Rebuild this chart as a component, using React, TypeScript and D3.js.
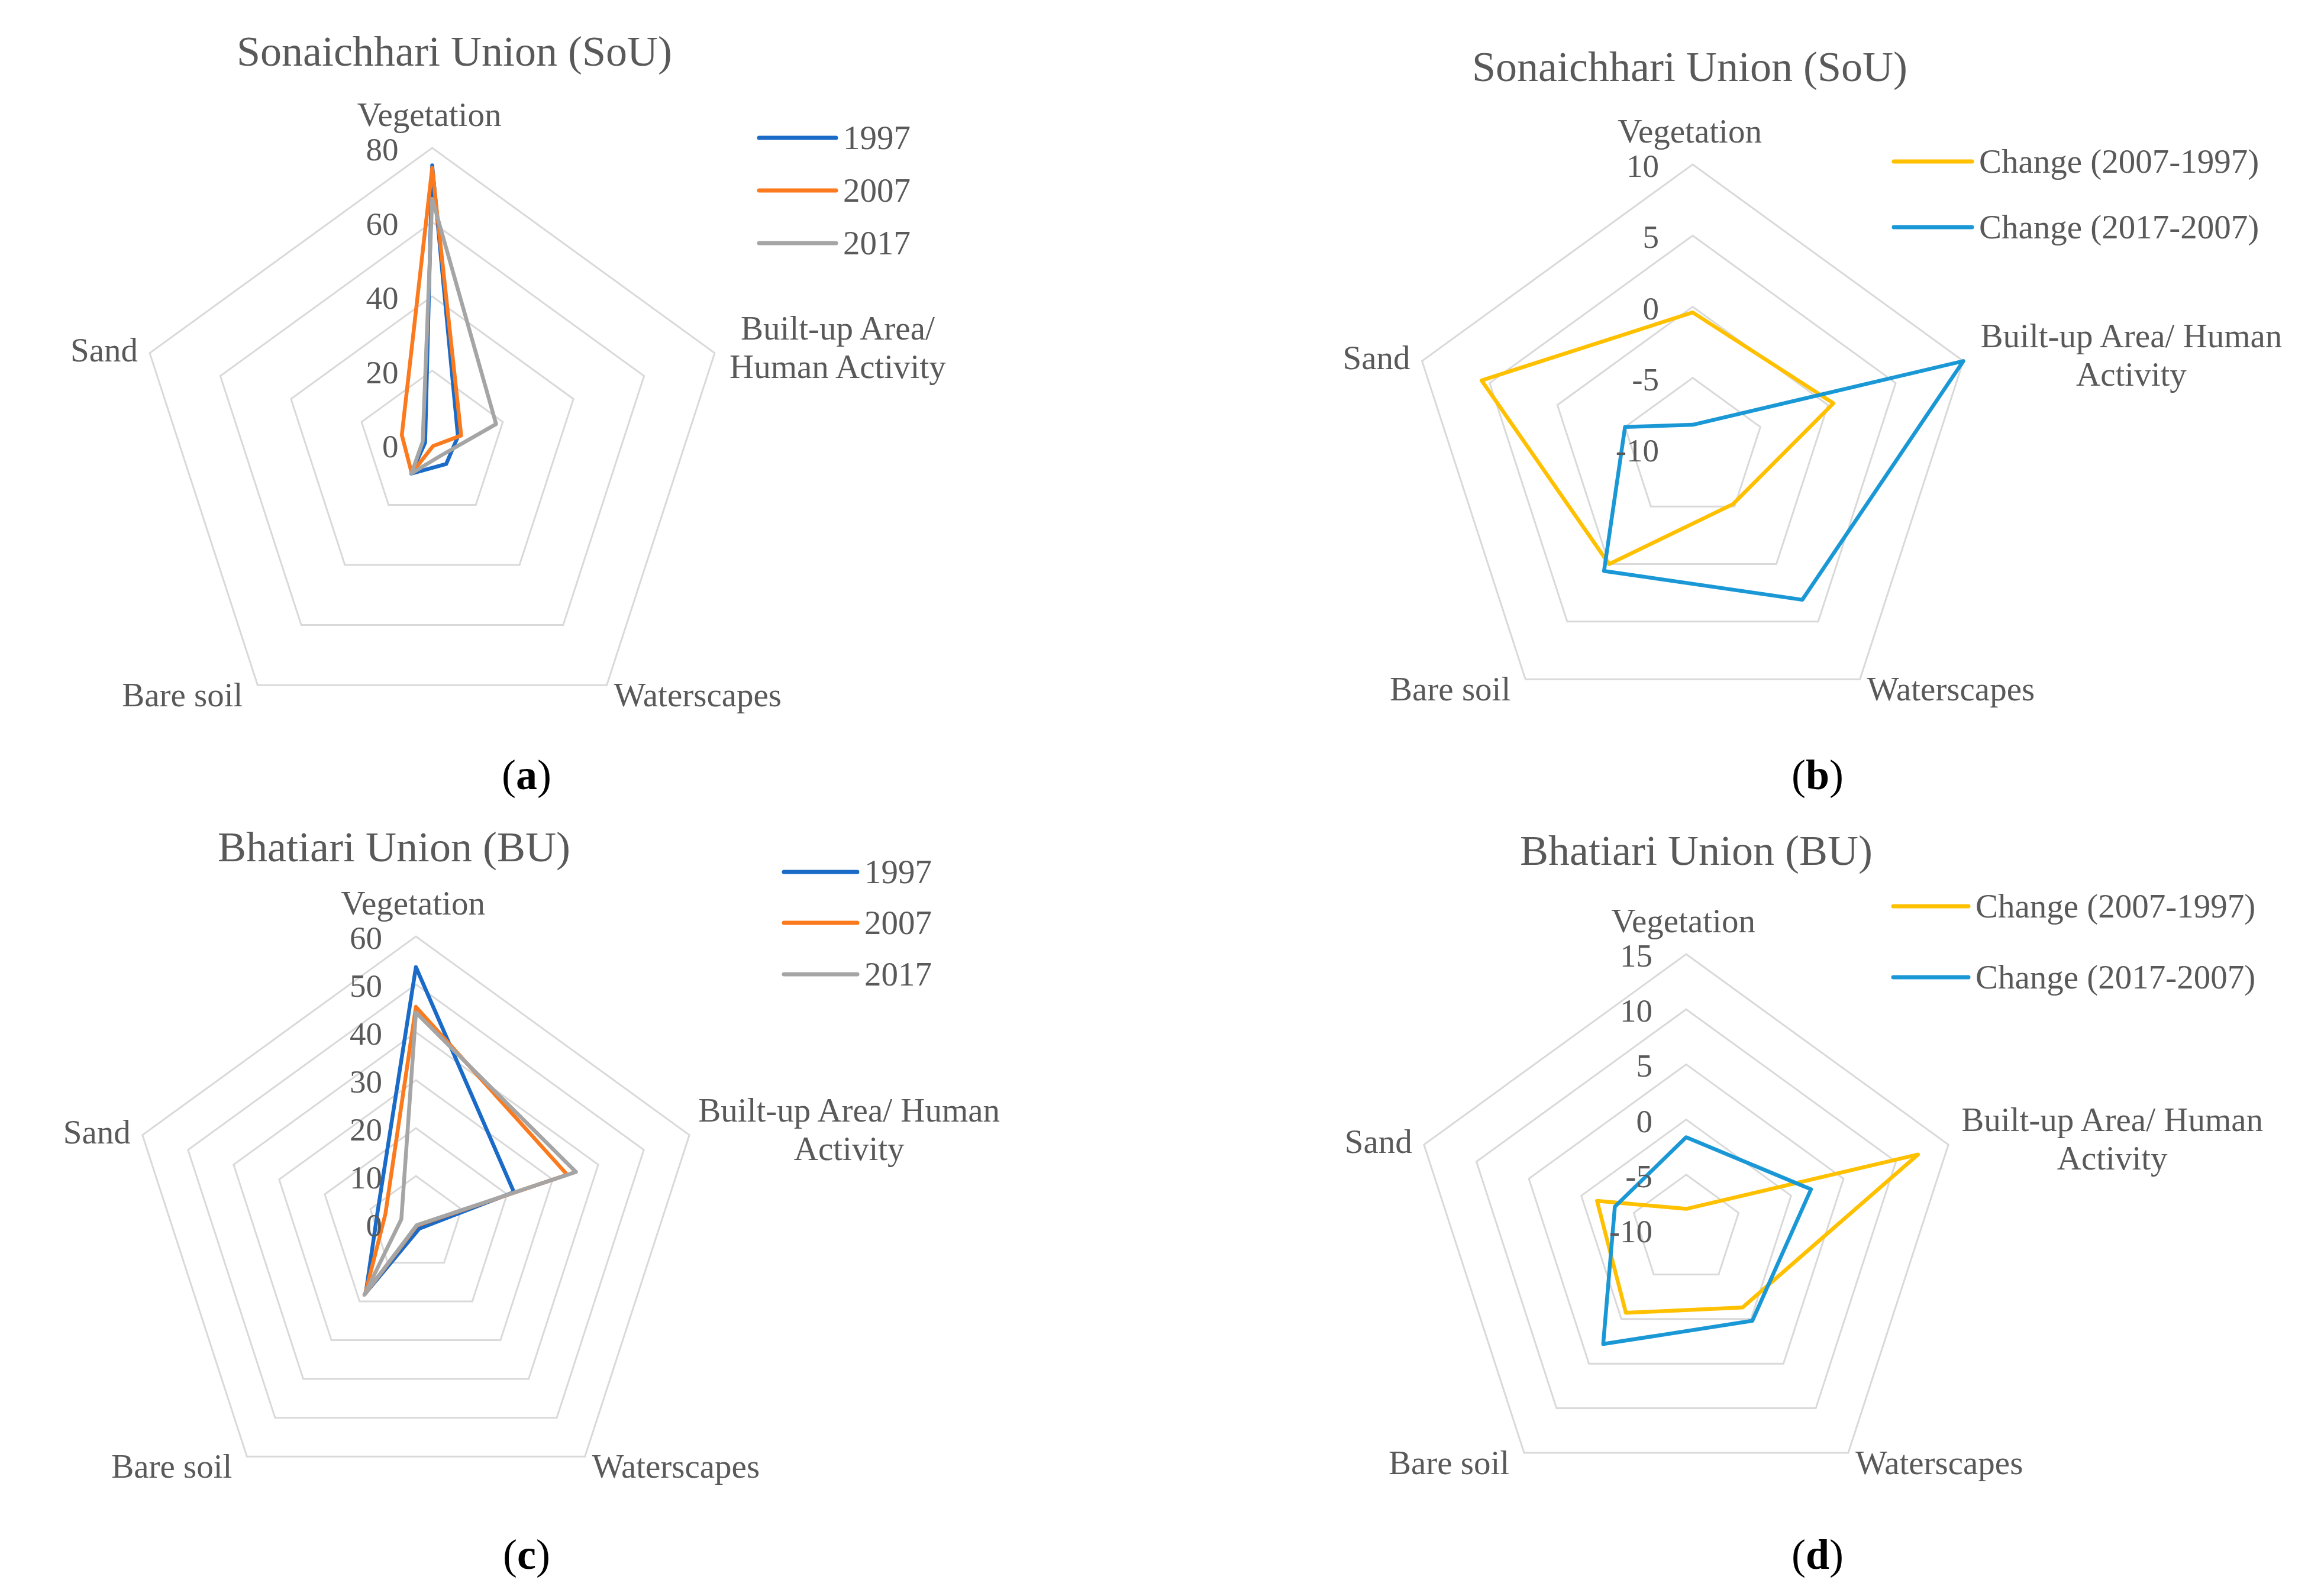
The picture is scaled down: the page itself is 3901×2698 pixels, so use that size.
import React, { useEffect } from 'react';
import * as d3 from 'd3';

// categories, clockwise from the top
const categories = ['Vegetation', 'Built-up Area/ Human Activity', 'Waterscapes', 'Bare soil', 'Sand'];

// Sonaichhari Union, share of area (%)
const sou1997 = [75.3, 7.3, 6.4, 9.6, 2.0];
const sou2007 = [74.6, 8.2, 0.4, 9.4, 8.6];
const sou2017 = [66.3, 18.1, 3.7, 9.5, 2.7];
// Sonaichhari Union, change (%)
const souChange0797 = [-0.4, 0.4, -5.2, 0.0, 5.6];
const souChange1707 = [-8.3, 10.0, 3.1, 0.6, -5.0];

// Bhatiari Union, share of area (%)
const bu1997 = [53.6, 21.5, 1.2, 17.8, 8.4];
const bu2007 = [45.3, 33.2, 0.4, 18.0, 6.7];
const bu2017 = [44.1, 35.1, 0.3, 18.3, 3.2];
// Bhatiari Union, change (%)
const buChange0797 = [-8.1, 12.1, -1.3, -0.7, -1.5];
const buChange1707 = [-1.6, 1.9, 0.2, 2.8, -3.2];

const souTicks = [0, 20, 40, 60, 80];
const souChangeTicks = [-10, -5, 0, 5, 10];
const buTicks = [0, 10, 20, 30, 40, 50, 60];
const buChangeTicks = [-10, -5, 0, 5, 10, 15];

const yearNames = ['1997', '2007', '2017'];
const changeNames = ['Change (2007-1997)', 'Change (2017-2007)'];
const yearColors = ['#1a6ac8', '#fc7a1e', '#a5a5a5'];
const changeColors = ['#ffc000', '#1a98d6'];

const FONT = "'Liberation Serif', 'Times New Roman', serif";
const TEXT = '#595959';
const GRID = '#d9d9d9';

interface Series { name: string; values: number[]; color: string; }
interface Panel {
  title: string;
  tag: string;
  cx: number; cy: number; r: number;
  ticks: number[];
  series: Series[];
  titleX: number; titleY: number;
  legX0: number; legX1: number; legYs: number[];
  builtLines: string[]; builtDx: number;
  tagX: number; tagY: number;
}

const mk = (names: string[], vals: number[][], colors: string[]) =>
  names.map((name, i) => ({ name, values: vals[i], color: colors[i] }));

const panels: Panel[] = [
  {
    title: 'Sonaichhari Union (SoU)', tag: 'a',
    cx: 730.5, cy: 752, r: 502, ticks: souTicks,
    series: mk(yearNames, [sou1997, sou2007, sou2017], yearColors),
    titleX: 768, titleY: 111,
    legX0: 1283, legX1: 1413, legYs: [233, 322, 411],
    builtLines: ['Built-up Area/', 'Human Activity'], builtDx: 208,
    tagX: 890, tagY: 1334,
  },
  {
    title: 'Sonaichhari Union (SoU)', tag: 'b',
    cx: 2861, cy: 759, r: 481, ticks: souChangeTicks,
    series: mk(changeNames, [souChange0797, souChange1707], changeColors),
    titleX: 2856, titleY: 137,
    legX0: 3201, legX1: 3333, legYs: [273, 384],
    builtLines: ['Built-up Area/ Human', 'Activity'], builtDx: 284,
    tagX: 3072, tagY: 1334,
  },
  {
    title: 'Bhatiari Union (BU)', tag: 'c',
    cx: 703, cy: 2069, r: 486, ticks: buTicks,
    series: mk(yearNames, [bu1997, bu2007, bu2017], yearColors),
    titleX: 666, titleY: 1456,
    legX0: 1325, legX1: 1449, legYs: [1474, 1560, 1647],
    builtLines: ['Built-up Area/ Human', 'Activity'], builtDx: 270,
    tagX: 890, tagY: 2652,
  },
  {
    title: 'Bhatiari Union (BU)', tag: 'd',
    cx: 2850, cy: 2079, r: 466, ticks: buChangeTicks,
    series: mk(changeNames, [buChange0797, buChange1707], changeColors),
    titleX: 2867, titleY: 1462,
    legX0: 3200, legX1: 3327, legYs: [1532, 1652],
    builtLines: ['Built-up Area/ Human', 'Activity'], builtDx: 277,
    tagX: 3072, tagY: 2652,
  },
];

const angle = (i: number) => (i * 2 * Math.PI) / categories.length;

const Radar: React.FC<{ p: Panel }> = ({ p }) => {
  const min = p.ticks[0];
  const max = p.ticks[p.ticks.length - 1];
  const scale = d3.scaleLinear().domain([min, max]).range([0, p.r]);
  const line = d3.lineRadial<number>()
    .angle((_, i) => angle(i))
    .radius(v => scale(v))
    .curve(d3.curveLinearClosed);
  const vertex = (i: number) => [Math.sin(angle(i)) * p.r, -Math.cos(angle(i)) * p.r];
  const [vx0, vy0] = vertex(0);
  const [vx1, vy1] = vertex(1);
  const [vx2, vy2] = vertex(2);
  const [vx3, vy3] = vertex(3);
  const [vx4, vy4] = vertex(4);
  const fs = 57;

  return (
    <g>
      <text x={p.titleX} y={p.titleY} textAnchor="middle" fontSize={72} fill={TEXT}>{p.title}</text>
      <g transform={`translate(${p.cx},${p.cy})`}>
        {p.ticks.slice(1).map(t => (
          <path key={t} d={line(categories.map(() => t)) || ''} fill="none" stroke={GRID} strokeWidth={3} />
        ))}
        {p.series.map(s => (
          <path key={s.name} d={line(s.values) || ''} fill="none" stroke={s.color}
            strokeWidth={6.5} strokeLinejoin="round" />
        ))}
        {p.ticks.map(t => (
          <text key={t} x={-57} y={-scale(t) + 21} textAnchor="end" fontSize={55} fill={TEXT}>{t}</text>
        ))}
        <text x={vx0 - 5} y={vy0 - 37} textAnchor="middle" fontSize={fs} fill={TEXT}>{categories[0]}</text>
        <text x={vx1 + p.builtDx} y={vy1 - 23} textAnchor="middle" fontSize={fs} fill={TEXT}>
          {p.builtLines.map((l, i) => (
            <tspan key={i} x={vx1 + p.builtDx} dy={i === 0 ? 0 : 65}>{l}</tspan>
          ))}
        </text>
        <text x={vx2 + 12} y={vy2 + 36} textAnchor="start" fontSize={fs} fill={TEXT}>{categories[2]}</text>
        <text x={vx3 - 25} y={vy3 + 36} textAnchor="end" fontSize={fs} fill={TEXT}>{categories[3]}</text>
        <text x={vx4 - 20} y={vy4 + 14} textAnchor="end" fontSize={fs} fill={TEXT}>{categories[4]}</text>
      </g>
      {p.series.map((s, i) => (
        <g key={s.name}>
          <line x1={p.legX0} x2={p.legX1} y1={p.legYs[i]} y2={p.legYs[i]} stroke={s.color}
            strokeWidth={7} strokeLinecap="round" />
          <text x={p.legX1 + 12} y={p.legYs[i] + 19} fontSize={fs} fill={TEXT}>{s.name}</text>
        </g>
      ))}
      <text x={p.tagX} y={p.tagY} textAnchor="middle" fontSize={72} fill="#000">
        <tspan>(</tspan><tspan fontWeight="bold">{p.tag}</tspan><tspan>)</tspan>
      </text>
    </g>
  );
};

const App: React.FC = () => {
  useEffect(() => {
    document.body.style.margin = '0';
  }, []);

  return (
    <svg width={3901} height={2698} viewBox="0 0 3901 2698" style={{ display: 'block', background: '#fff' }}
      fontFamily={FONT}>
      <rect width={3901} height={2698} fill="#fff" />
      {panels.map(p => <Radar key={p.tag} p={p} />)}
    </svg>
  );
};

export default App;
